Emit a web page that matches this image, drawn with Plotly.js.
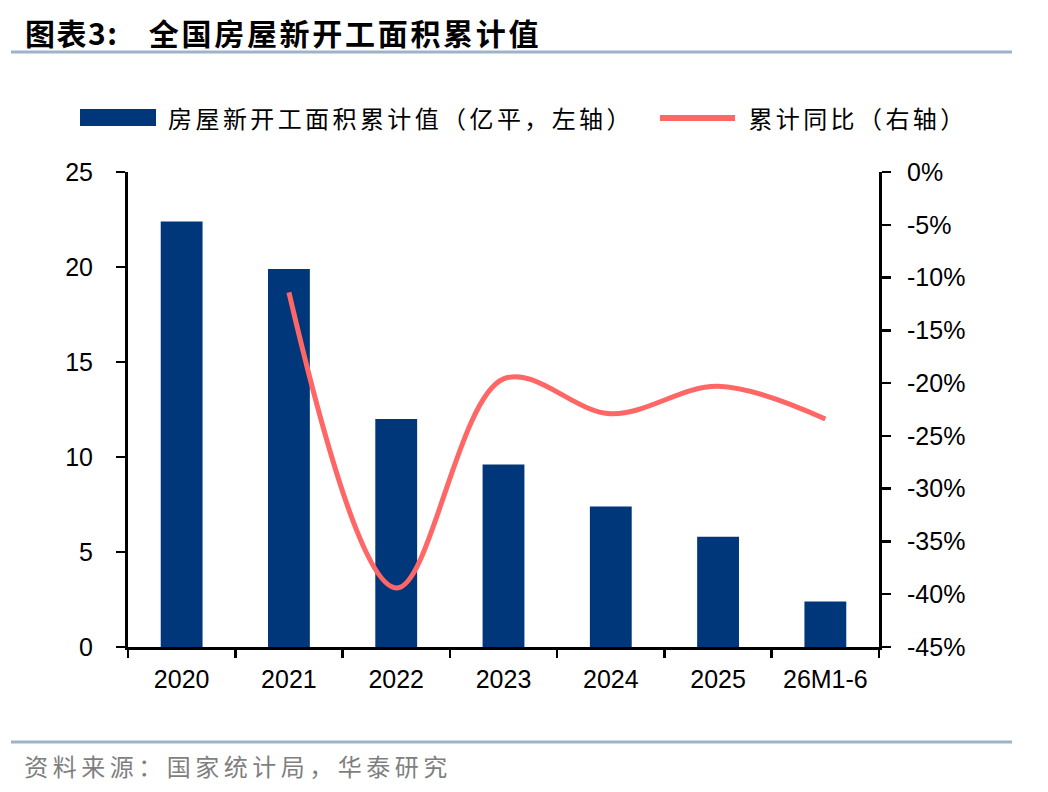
<!DOCTYPE html>
<html>
<head>
<meta charset="utf-8">
<script src="https://cdn.plot.ly/plotly-3.0.1.min.js"></script>
<style>
  html, body { margin: 0; padding: 0; background: #fff; }
  #chart { width: 1048px; height: 792px; }
  .annotation[data-index="0"] text { letter-spacing: 1.5px; }
  .annotation[data-index="1"] text { letter-spacing: 2.7px; }
  .annotation[data-index="2"] text { letter-spacing: 3.4px; }
  .annotation[data-index="3"] text { letter-spacing: 3.4px; }
  .annotation[data-index="4"] text { letter-spacing: 4.5px; }
</style>
</head>
<body>
<div id="chart"></div>
<script>
// 数据
const categories = ['2020', '2021', '2022', '2023', '2024', '2025', '26M1-6'];
const newStartArea = [22.4, 19.9, 12.0, 9.6, 7.4, 5.8, 2.4];         // 亿平
const yoyGrowth = [null, -11.4, -39.4, -19.6, -22.9, -20.3, -23.4];  // %
const leftTicks = [0, 5, 10, 15, 20, 25];
const rightTicks = [0, -5, -10, -15, -20, -25, -30, -35, -40, -45];
const rightTickLabels = ['0%', '-5%', '-10%', '-15%', '-20%', '-25%', '-30%', '-35%', '-40%', '-45%'];

const navy = '#00377a';
const coral = '#ff6666';
const rule = '#9db3ca';
const cjk = '"Noto Sans CJK SC", "Noto Sans", sans-serif';
const latin = '"Liberation Sans", Arial, sans-serif';

const data = [
    {
        type: 'bar',
        x: categories,
        y: newStartArea,
        width: 0.39,
        marker: { color: navy },
        name: '房屋新开工面积累计值（亿平，左轴）',
        yaxis: 'y',
        showlegend: false,
        hoverinfo: 'x+y'
    },
    {
        type: 'scatter',
        mode: 'lines',
        x: categories,
        y: yoyGrowth,
        line: { color: coral, width: 5, shape: 'spline', smoothing: 1 },
        name: '累计同比（右轴）',
        yaxis: 'y2',
        connectgaps: false,
        showlegend: false,
        hoverinfo: 'x+y'
    }
];

const axisFont = { family: latin, size: 25, color: '#000' };

function note(text, x, y, size, color) {
    return {
        text: text, xref: 'paper', yref: 'paper', x: x, y: y,
        xanchor: 'center', yanchor: 'middle', showarrow: false,
        font: { family: cjk, size: size, color: color }
    };
}

const layout = {
    width: 1048,
    height: 792,
    margin: { l: 128, r: 169, t: 172, b: 145 },
    paper_bgcolor: '#fff',
    plot_bgcolor: '#fff',
    showlegend: false,
    xaxis: {
        type: 'category',
        tickson: 'boundaries',
        ticks: 'outside',
        ticklen: 8,
        tickwidth: 2.5,
        tickcolor: '#000',
        showline: true,
        linecolor: '#000',
        linewidth: 3,
        showgrid: false,
        zeroline: false,
        tickfont: axisFont,
        ticklabelstandoff: 8
    },
    yaxis: {
        range: [0, 25],
        tickvals: leftTicks,
        ticks: 'outside',
        ticklen: 9,
        tickwidth: 2.5,
        tickcolor: '#000',
        showline: true,
        linecolor: '#000',
        linewidth: 3,
        showgrid: false,
        zeroline: false,
        tickfont: axisFont,
        ticklabelstandoff: 18
    },
    yaxis2: {
        overlaying: 'y',
        side: 'right',
        range: [-45, 0],
        tickvals: rightTicks,
        ticktext: rightTickLabels,
        ticks: 'outside',
        ticklen: 9,
        tickwidth: 2.5,
        tickcolor: '#000',
        showline: true,
        linecolor: '#000',
        linewidth: 3,
        showgrid: false,
        zeroline: false,
        tickfont: axisFont,
        ticklabelstandoff: 11
    },
    shapes: [
        // 标题下横线
        { type: 'line', xref: 'paper', yref: 'paper', x0: -0.1558, x1: 1.1771, y0: 1.2526, y1: 1.2526,
          line: { color: rule, width: 3 } },
        // 底部横线
        { type: 'line', xref: 'paper', yref: 'paper', x0: -0.1558, x1: 1.1771, y0: -0.2, y1: -0.2,
          line: { color: rule, width: 3 } },
        // 图例：柱
        { type: 'rect', xref: 'paper', yref: 'paper', x0: -0.0639, x1: 0.0373, y0: 1.0968, y1: 1.1326,
          fillcolor: navy, line: { width: 0 } },
        // 图例：线
        { type: 'line', xref: 'paper', yref: 'paper', x0: 0.7084, x1: 0.8083, y0: 1.1137, y1: 1.1137,
          line: { color: coral, width: 6 } }
    ],
    annotations: [
        note('<b>图表3:</b>', -0.0752, 1.2947, 30, '#000'),
        note('<b>全国房屋新开工面积累计值</b>', 0.2895, 1.2947, 30, '#000'),
        note('房屋新开工面积累计值（亿平，左轴）', 0.3632, 1.1137, 24, '#000'),
        note('累计同比（右轴）', 0.9723, 1.1137, 24, '#000'),
        note('资料来源：国家统计局，华泰研究', 0.1468, -0.2505, 24, '#7f7f7f')
    ]
};

Plotly.newPlot('chart', data, layout, { displayModeBar: false, staticPlot: true });
</script>
</body>
</html>
